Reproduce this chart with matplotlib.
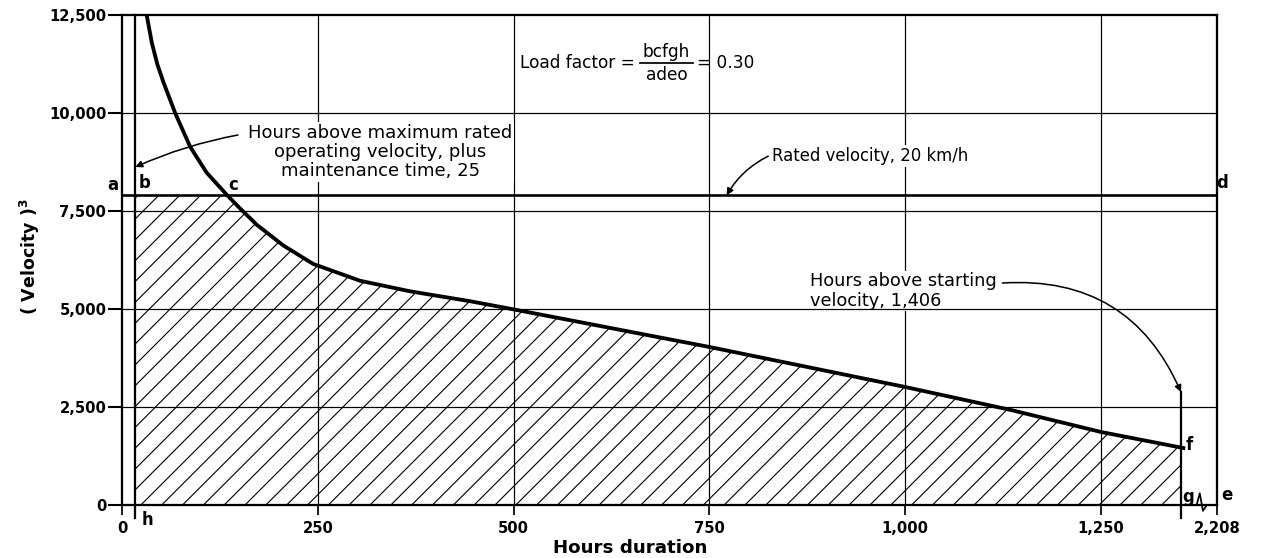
import numpy as np
import matplotlib
matplotlib.use('Agg')
import matplotlib.pyplot as plt

# dati
curve_hours = [31.5, 38, 45, 53, 68, 87, 108, 134, 150, 172, 206, 244, 304, 368, 444, 500,
               750, 1000, 1135, 1250, 1355]
curve_vel3 = [12500, 11800, 11250, 10780, 9992, 9140, 8480, 7908, 7580, 7150, 6620, 6150, 5720,
              5450, 5200, 4990, 4031, 3010, 2423, 1862, 1454]
rated_vel3 = 7900          # 20 km/h al cubo (come disegnato)
h_hours = 17               # linea b-h
g_hours = 1352             # linea g
e_hours = 1398             # bordo destro (2,208 ore, asse interrotto)
start_top = 2880           # fine della freccia su g

x_ticks = [0, 250, 500, 750, 1000, 1250, e_hours]
x_labels = ['0', '250', '500', '750', '1,000', '1,250', '2,208']
y_ticks = [0, 2500, 5000, 7500, 10000, 12500]
y_labels = ['0', '2,500', '5,000', '7,500', '10,000', '12,500']

plt.rcParams['font.family'] = 'DejaVu Sans'
plt.rcParams['hatch.linewidth'] = 0.65

fig = plt.figure(figsize=(1262 / 125, 558 / 125), dpi=125)
ax = fig.add_axes([122 / 1262, 53 / 558, 1095 / 1262, 490 / 558])
ax.set_xlim(0, e_hours)
ax.set_ylim(0, 12500)

for s in ax.spines.values():
    s.set_linewidth(1.3)

# griglia
for yv in y_ticks[1:-1]:
    ax.axhline(yv, color='black', lw=0.7, zorder=4)
for xv in x_ticks[1:-1]:
    ax.axvline(xv, color='black', lw=0.7, zorder=1)

ax.set_xticks(x_ticks)
ax.set_xticklabels(x_labels, fontsize=8.5, fontweight='bold')
ax.set_yticks(y_ticks)
ax.set_yticklabels(y_labels, fontsize=8.5, fontweight='bold')
ax.tick_params(axis='y', length=8, width=1.2, pad=1)
ax.tick_params(axis='x', length=6, width=1.0, pad=3)

# linea velocita' nominale
ax.axhline(rated_vel3, color='black', lw=1.5, zorder=4)

# area tratteggiata
xs = np.linspace(h_hours, g_hours, 3000)
top = np.minimum(np.interp(xs, curve_hours, curve_vel3, left=12500), rated_vel3)
ax.fill_between(xs, 0, top, facecolor='none', edgecolor='black', hatch='//', linewidth=0, zorder=2)

# curva di durata
ax.plot(curve_hours, curve_vel3, color='black', lw=2.2, zorder=5, solid_joinstyle='round')

# linee verticali h e g
ax.plot([h_hours, h_hours], [-330, 12500], color='black', lw=1.3, clip_on=False, zorder=5)
ax.plot([g_hours, g_hours], [-330, start_top], color='black', lw=1.3, clip_on=False, zorder=5)

# interruzione dell'asse
mid = (g_hours + e_hours) / 2
ax.plot([mid - 10, mid - 3, mid + 1, mid + 5, mid + 10], [0, 0, 300, -150, 0],
        color='black', lw=1.0, clip_on=False, zorder=6)

# lettere
lab_kw = dict(fontsize=9.5, fontweight='bold', ha='center', va='center')
ax.text(-11.5, 8163, 'a', **lab_kw)
ax.text(29, 8214, 'b', **lab_kw)
ax.text(142, 8163, 'c', **lab_kw)
ax.text(1404, 8214, 'd', **lab_kw)
ax.text(1411, 255, 'e', **lab_kw)
ax.text(1363, 1531, 'f', **lab_kw)
ax.text(1361, 204, 'g', **lab_kw)
ax.text(32, -383, 'h', **lab_kw)

# annotazioni
bbox = dict(facecolor='white', edgecolor='none', pad=1)
arrow_kw = dict(arrowstyle='-|>', color='black', lw=0.9, mutation_scale=8, shrinkA=0, shrinkB=0)
ax.text(330, 9005, 'Hours above maximum rated\noperating velocity, plus\nmaintenance time, 25',
        fontsize=10.4, ha='center', va='center', linespacing=1.1, bbox=bbox, zorder=3)
ax.annotate('', xy=(h_hours, 8622), xytext=(148, 9439),
            arrowprops=dict(connectionstyle='arc3,rad=0.06', **arrow_kw), zorder=6)

ax.text(830, 8903, 'Rated velocity, 20 km/h', fontsize=9.5, ha='left', va='center',
        bbox=bbox, zorder=3)
ax.annotate('', xy=(772, rated_vel3), xytext=(825, 8900),
            arrowprops=dict(connectionstyle='arc3,rad=0.15', **arrow_kw), zorder=6)

ax.text(878, 5459, 'Hours above starting\nvelocity, 1,406', fontsize=10.2, ha='left', va='center',
        linespacing=1.1, bbox=bbox, zorder=3)
ax.annotate('', xy=(g_hours, start_top), xytext=(1124, 5663),
            arrowprops=dict(connectionstyle='arc3,rad=-0.35', **arrow_kw), zorder=6)

# fattore di carico
ax.text(508, 11276, 'Load factor =', fontsize=9.8, ha='left', va='center')
ax.text(695, 11556, 'bcfgh', fontsize=9.8, ha='center', va='center')
ax.text(695, 10969, 'adeo', fontsize=9.8, ha='center', va='center')
ax.plot([661, 729], [11276, 11276], color='black', lw=1.0)
ax.text(734, 11276, '= 0.30', fontsize=9.8, ha='left', va='center')

# etichette assi
fig.text(30 / 1262, 1 - 257 / 558, r'( Velocity )$^{\mathbf{3}}$', rotation=90,
         fontsize=10, fontweight='bold', ha='center', va='center')
fig.text(630 / 1262, 1 - 548 / 558, 'Hours duration', fontsize=10.5, fontweight='bold',
         ha='center', va='center')

fig.savefig('out.png', dpi=125)
